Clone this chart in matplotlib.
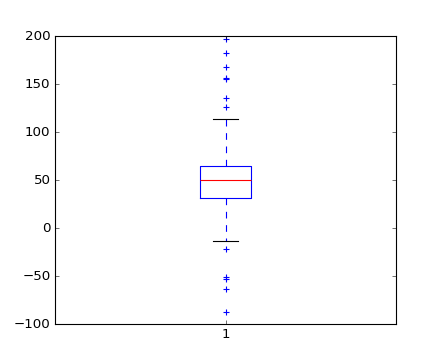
import matplotlib
matplotlib.use('Agg')
import matplotlib.pyplot as plt

plt.style.use('classic')

# box statistics
median = 50.0
q1 = 31.5
q3 = 65.0
whisker_low = -14.0
whisker_high = 114.0
fliers_high = [196.5, 182.0, 167.5, 156.3, 155.3, 135.2, 126.5]
fliers_low = [-22.0, -51.5, -53.5, -63.3, -88.0]
labels = ['1']

stats = [{
    'med': median, 'q1': q1, 'q3': q3,
    'whislo': whisker_low, 'whishi': whisker_high,
    'fliers': fliers_high + fliers_low,
    'label': labels[0],
}]

fig = plt.figure(figsize=(5.5, 4.5), dpi=80)
fig.patch.set_facecolor('white')
ax = fig.add_subplot(111)
ax.bxp(stats, positions=[1], widths=0.15,
       boxprops=dict(color='b'),
       whiskerprops=dict(color='b', linestyle='--'),
       capprops=dict(color='k'),
       medianprops=dict(color='r'),
       flierprops=dict(marker='+', markeredgecolor='b', linestyle='none', markersize=6))
ax.set_xlim(0.5, 1.5)
ax.set_ylim(-100, 200)
fig.savefig('out.png', dpi=80, facecolor='white')
